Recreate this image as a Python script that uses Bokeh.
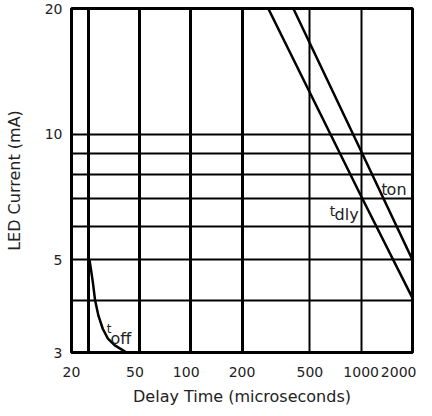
from bokeh.plotting import figure
from bokeh.models import FixedTicker, Grid, Label, Range1d
from bokeh.embed import file_html
from bokeh.resources import INLINE

# ---- data ----
x_ticks = [20, 50, 100, 200, 500, 1000, 2000]
x_tick_labels = ["20", "50", "100", "200", "500", "1000", "2000"]
y_ticks = [3, 5, 10, 20]
y_tick_labels = ["3", "5", "10", "20"]
x_grid_heavy = [25, 50, 100, 200]
x_grid_light = [500, 1000]
y_grid = [4, 5, 6, 7, 8, 9, 10]

ton_x = [400, 1000, 2000]
ton_y = [20, 9.1, 5.0]
tdly_x = [285, 1000, 2000]
tdly_y = [20, 7.1, 4.05]
toff_x = [25.5, 26.0, 26.7, 27.5, 28.8, 30.5, 32.7, 35.9, 39.9, 42.1]
toff_y = [5.0, 4.75, 4.41, 4.0, 3.67, 3.42, 3.24, 3.12, 3.04, 3.0]

FONT = "DejaVu Sans"
TXT = "#222222"
NB = "\u00a0"

p = figure(width=416, height=408, x_axis_type="log", y_axis_type="log",
           x_range=Range1d(20, 2000), y_range=Range1d(3, 20),
           output_backend="svg", toolbar_location=None,
           min_border_left=71, min_border_right=4, min_border_top=8,
           min_border_bottom=56,
           x_axis_label="Delay Time (microseconds)",
           y_axis_label="LED Current (mA)")

p.outline_line_color = "black"
p.outline_line_width = 3
p.background_fill_color = "white"
p.border_fill_color = "white"

# axes
p.xaxis.ticker = FixedTicker(ticks=x_ticks)
p.yaxis.ticker = FixedTicker(ticks=y_ticks)
xo = dict(zip(x_ticks, x_tick_labels))
xo[100] = xo[100] + NB * 2
xo[50] = xo[50] + NB * 2
p.xaxis.major_label_overrides = xo
p.yaxis.major_label_overrides = dict(zip(y_ticks, y_tick_labels))
for ax in (p.xaxis, p.yaxis):
    ax.axis_line_color = None
    ax.major_tick_line_color = None
    ax.minor_tick_line_color = None
    ax.major_label_text_font = FONT
    ax.major_label_text_font_size = "14px"
    ax.major_label_text_color = TXT
    ax.axis_label_text_font = FONT
    ax.axis_label_text_font_size = "16px"
    ax.axis_label_text_font_style = "normal"
    ax.axis_label_text_color = TXT
p.xaxis.major_label_standoff = 5
p.xaxis.axis_label_standoff = 4
p.yaxis.major_label_standoff = 3
p.yaxis.axis_label_standoff = 18

# grids
p.xgrid.ticker = FixedTicker(ticks=x_grid_heavy)
p.xgrid.grid_line_color = "black"
p.xgrid.grid_line_width = 3
p.ygrid.ticker = FixedTicker(ticks=y_grid)
p.ygrid.grid_line_color = "black"
p.ygrid.grid_line_width = 2
g2 = Grid(dimension=0, ticker=FixedTicker(ticks=x_grid_light),
          grid_line_color="black", grid_line_width=2)
p.add_layout(g2)

# curves
p.line(ton_x, ton_y, line_color="black", line_width=2.5)
p.line(tdly_x, tdly_y, line_color="black", line_width=2.5)
p.line(toff_x, toff_y, line_color="black", line_width=2.5)

def tlabel(xt, yt, tsize, xs, ys, sub):
    p.add_layout(Label(x=xt, y=yt, text="t", text_align="left",
                       text_baseline="alphabetic", text_font=FONT,
                       text_font_size=tsize, text_color=TXT))
    p.add_layout(Label(x=xs, y=ys, text=sub, text_align="left",
                       text_baseline="alphabetic", text_font=FONT,
                       text_font_size="16px", text_color=TXT))

tlabel(1318, 7.37, "15px", 1410, 7.37, "on")
tlabel(654, 6.55, "14px", 698, 6.43, "dly")
tlabel(32.2, 3.42, "12px", 33.9, 3.24, "off")

open("out.html", "w").write(file_html(p, INLINE))
